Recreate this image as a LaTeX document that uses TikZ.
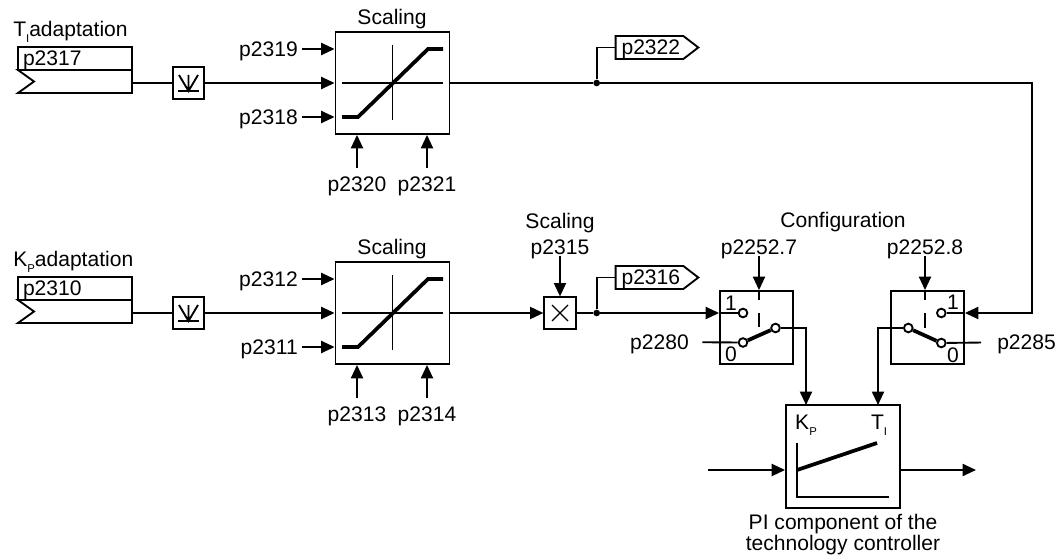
\documentclass[tikz,border=0pt]{standalone}
\usepackage{fontspec}
\setmainfont{Liberation Sans}
\usetikzlibrary{arrows.meta,positioning,shapes.symbols}
\newcommand{\smallsub}[1]{\raisebox{-4.5pt}{\fontsize{8.5}{8.5}\selectfont #1}}
\tikzset{
  lbl/.style={inner xsep=3pt, inner ysep=0pt, font=\fontsize{15.8}{17}\selectfont, text height=12pt, text depth=1pt},
  block/.style={draw, line width=1.4pt, minimum width=85.5pt, minimum height=76.5pt, inner sep=0pt},
  sqbox/.style={draw, line width=1.4pt, minimum size=23.5pt, inner sep=0pt},
  switchbox/.style={draw, line width=1.4pt, minimum size=54.75pt, inner sep=0pt},
  parbox/.style={draw, line width=1.4pt, minimum width=85.5pt, minimum height=17.25pt, inner sep=0pt, font=\fontsize{15.8}{17}\selectfont, text height=12pt, text depth=1pt, align=left},
  flag/.style={draw, line width=1.4pt, signal, signal to=east, signal pointer angle=75, minimum width=62pt, minimum height=17.25pt, inner xsep=2pt, inner ysep=0pt, font=\fontsize{15.8}{17}\selectfont, text height=12pt, text depth=1pt},
  contact/.style={draw, circle, line width=1.4pt, fill=white, minimum size=6.5pt, inner sep=0pt},
  junct/.style={circle, fill=black, minimum size=5pt, inner sep=0pt},
  wire/.style={line width=1.4pt},
  thin line/.style={line width=1pt},
  thick line/.style={line width=2.8pt},
  flow/.style={-{Triangle[length=10pt,width=9pt]}, line width=1.4pt}
}
\begin{document}
\begin{tikzpicture}[x=0.75pt,y=-0.75pt]
  \useasboundingbox (0,0) rectangle (1064,560);

  % upper row
  \node[lbl, anchor=west] (titleI) at (9,29) {T\smallsub{I}adaptation};
  \node[parbox, text width=78pt] (parI) at (75,58.5) {p2317};
  \draw[wire] (18,70) -- (132,70) -- (132,93) -- (18,93) -- (34,81.5) -- cycle;
  \coordinate (outI) at (132,83);
  \node[sqbox] (convI) at (188.5,83) {};
  \draw[thin line] (178,91) -- (199,91);
  \draw[wire] (179,75) -- (188.5,91) -- (198,75) (188.5,75) -- (188.5,91);
  \node[block] (scaleI) at (392.5,83) {};
  \node[lbl] (scaleIt) at (392,17) {Scaling};
  \node[lbl, anchor=east] (p2319) at (302,49) {p2319};
  \node[lbl, anchor=east] (p2318) at (302,117) {p2318};
  \node[lbl] (p2320) at (357,184) {p2320};
  \node[lbl] (p2321) at (427,184) {p2321};
  \draw[thin line] (342,83) -- (443,83) (392.5,45) -- (392.5,120);
  \draw[thick line] (342,117) -- (358,117) -- (428,49) -- (443,49);
  \node[junct] (junctI) at (596.7,83) {};
  \node[flag] (flagI) at (649.5,47.5) {\hspace*{2pt}p2322};
  \coordinate (turnI) at (1032,83);

  \draw[wire] (outI) -- (convI);
  \draw[flow] (convI) -- (scaleI);
  \draw[flow] (p2319) -- (p2319 -| scaleI.west);
  \draw[flow] (p2318) -- (p2318 -| scaleI.west);
  \draw[flow, shorten <=5pt] (p2320.north) -- (p2320.north |- scaleI.south);
  \draw[flow, shorten <=5pt] (p2321.north) -- (p2321.north |- scaleI.south);
  \draw[wire] (scaleI) ++(57,0) -- (junctI);
  \draw[wire] (junctI) |- (flagI.west);

  % lower row
  \node[lbl, anchor=west] (titleP) at (9,259) {K\smallsub{P}adaptation};
  \node[parbox, text width=78pt] (parP) at (75,288.5) {p2310};
  \draw[wire] (18,300) -- (132,300) -- (132,323) -- (18,323) -- (34,311.5) -- cycle;
  \coordinate (outP) at (132,313);
  \node[sqbox] (convP) at (188.5,313) {};
  \draw[thin line] (178,321) -- (199,321);
  \draw[wire] (179,305) -- (188.5,321) -- (198,305) (188.5,305) -- (188.5,321);
  \node[block] (scaleP) at (392.5,313) {};
  \node[lbl] (scalePt) at (392,247) {Scaling};
  \node[lbl, anchor=east] (p2312) at (302,279) {p2312};
  \node[lbl, anchor=east] (p2311) at (302,347) {p2311};
  \node[lbl] (p2313) at (357,414) {p2313};
  \node[lbl] (p2314) at (427,414) {p2314};
  \draw[thin line] (342,313) -- (443,313) (392.5,275) -- (392.5,350);
  \draw[thick line] (342,347) -- (358,347) -- (428,279) -- (443,279);
  \node[sqbox] (mult) at (560,313) {};
  \draw[thin line] (552,305) -- (568,321) (568,305) -- (552,321);
  \node[lbl] (p2315) at (560,247) {p2315};
  \node[lbl] (multt) at (560,221) {Scaling};
  \node[junct] (junctP) at (596.7,313) {};
  \node[flag] (flagP) at (649.5,277.5) {\hspace*{2pt}p2316};

  \draw[wire] (outP) -- (convP);
  \draw[flow] (convP) -- (scaleP);
  \draw[flow] (p2312) -- (p2312 -| scaleP.west);
  \draw[flow] (p2311) -- (p2311 -| scaleP.west);
  \draw[flow, shorten <=5pt] (p2313.north) -- (p2313.north |- scaleP.south);
  \draw[flow, shorten <=5pt] (p2314.north) -- (p2314.north |- scaleP.south);
  \draw[flow] (scaleP) ++(57,0) -- (mult);
  \draw[flow] (p2315) -- (mult);
  \draw[wire] (mult) -- (junctP);
  \draw[wire] (junctP) |- (flagP.west);

  % switches
  \node[lbl] (config) at (843,220) {Configuration};
  \node[switchbox] (switchP) at (756.5,327.5) {};
  \node[lbl] (p22527) at (759,247) {p2252.7};
  \node[lbl, anchor=east] (p2280) at (693,342) {p2280};
  \node[lbl] (oneP) at (731,303) {1};
  \node[lbl] (zeroP) at (731,354) {0};
  \node[contact] (contP1) at (743,313) {};
  \node[contact] (contP0) at (743,342.5) {};
  \node[contact] (contPc) at (775.5,328) {};
  \draw[wire] (759,291) -- (759,300) (759,313) -- (759,327);
  \node[switchbox] (switchI) at (927.5,327.5) {};
  \node[lbl] (p22528) at (925,247) {p2252.8};
  \node[lbl, anchor=west] (p2285) at (993,342) {p2285};
  \node[lbl] (oneI) at (953,302) {1};
  \node[lbl] (zeroI) at (953,355) {0};
  \node[contact] (contI1) at (941.3,313) {};
  \node[contact] (contI0) at (941.3,343) {};
  \node[contact] (contIc) at (908.3,328) {};
  \draw[wire] (925,291) -- (925,300) (925,313) -- (925,328);

  % PI block
  \node[draw, line width=1.4pt, minimum width=85.5pt, minimum height=77pt, inner sep=0pt] (piBlock) at (843,456.5) {};
  \node[lbl] (kpText) at (806,422) {K\smallsub{P}};
  \node[lbl] (tiText) at (879,422) {T\smallsub{I}};
  \draw[wire] (797,443) -- (797,497) -- (889,497);
  \draw[thick line] (797,470) -- (877,443);
  \node[lbl, align=center, text height=, text depth=, font=\fontsize{15.8}{15.75}\selectfont] (piText) at (843,535) {PI component of the\\technology controller};
  \coordinate (piKp) at (806,405);
  \coordinate (piTi) at (878,405);
  \coordinate (piIn) at (708,470);
  \coordinate (piOut) at (976,470);

  \draw[flow] (junctP) -- (contP1 -| switchP.west);
  \draw[wire] (contP1 -| switchP.west) -- (contP1);
  \draw[flow] (p22527) -- (p22527 |- switchP.north);
  \draw[wire, shorten <=7pt] (p2280) -- (contP0);
  \draw[thick line] (contP0) -- (contPc);
  \draw[flow] (contPc) -| (piKp);
  \draw[flow] (junctI) -- (turnI) |- (contI1 -| switchI.east);
  \draw[wire] (contI1 -| switchI.east) -- (contI1);
  \draw[flow] (p22528) -- (p22528 |- switchI.north);
  \draw[wire, shorten <=9pt] (p2285) -- (contI0);
  \draw[thick line] (contI0) -- (contIc);
  \draw[flow] (contIc) -| (piTi);
  \draw[flow] (piIn) -- (piIn -| piBlock.west);
  \draw[flow] (piOut -| piBlock.east) -- (piOut);
\end{tikzpicture}
\end{document}
